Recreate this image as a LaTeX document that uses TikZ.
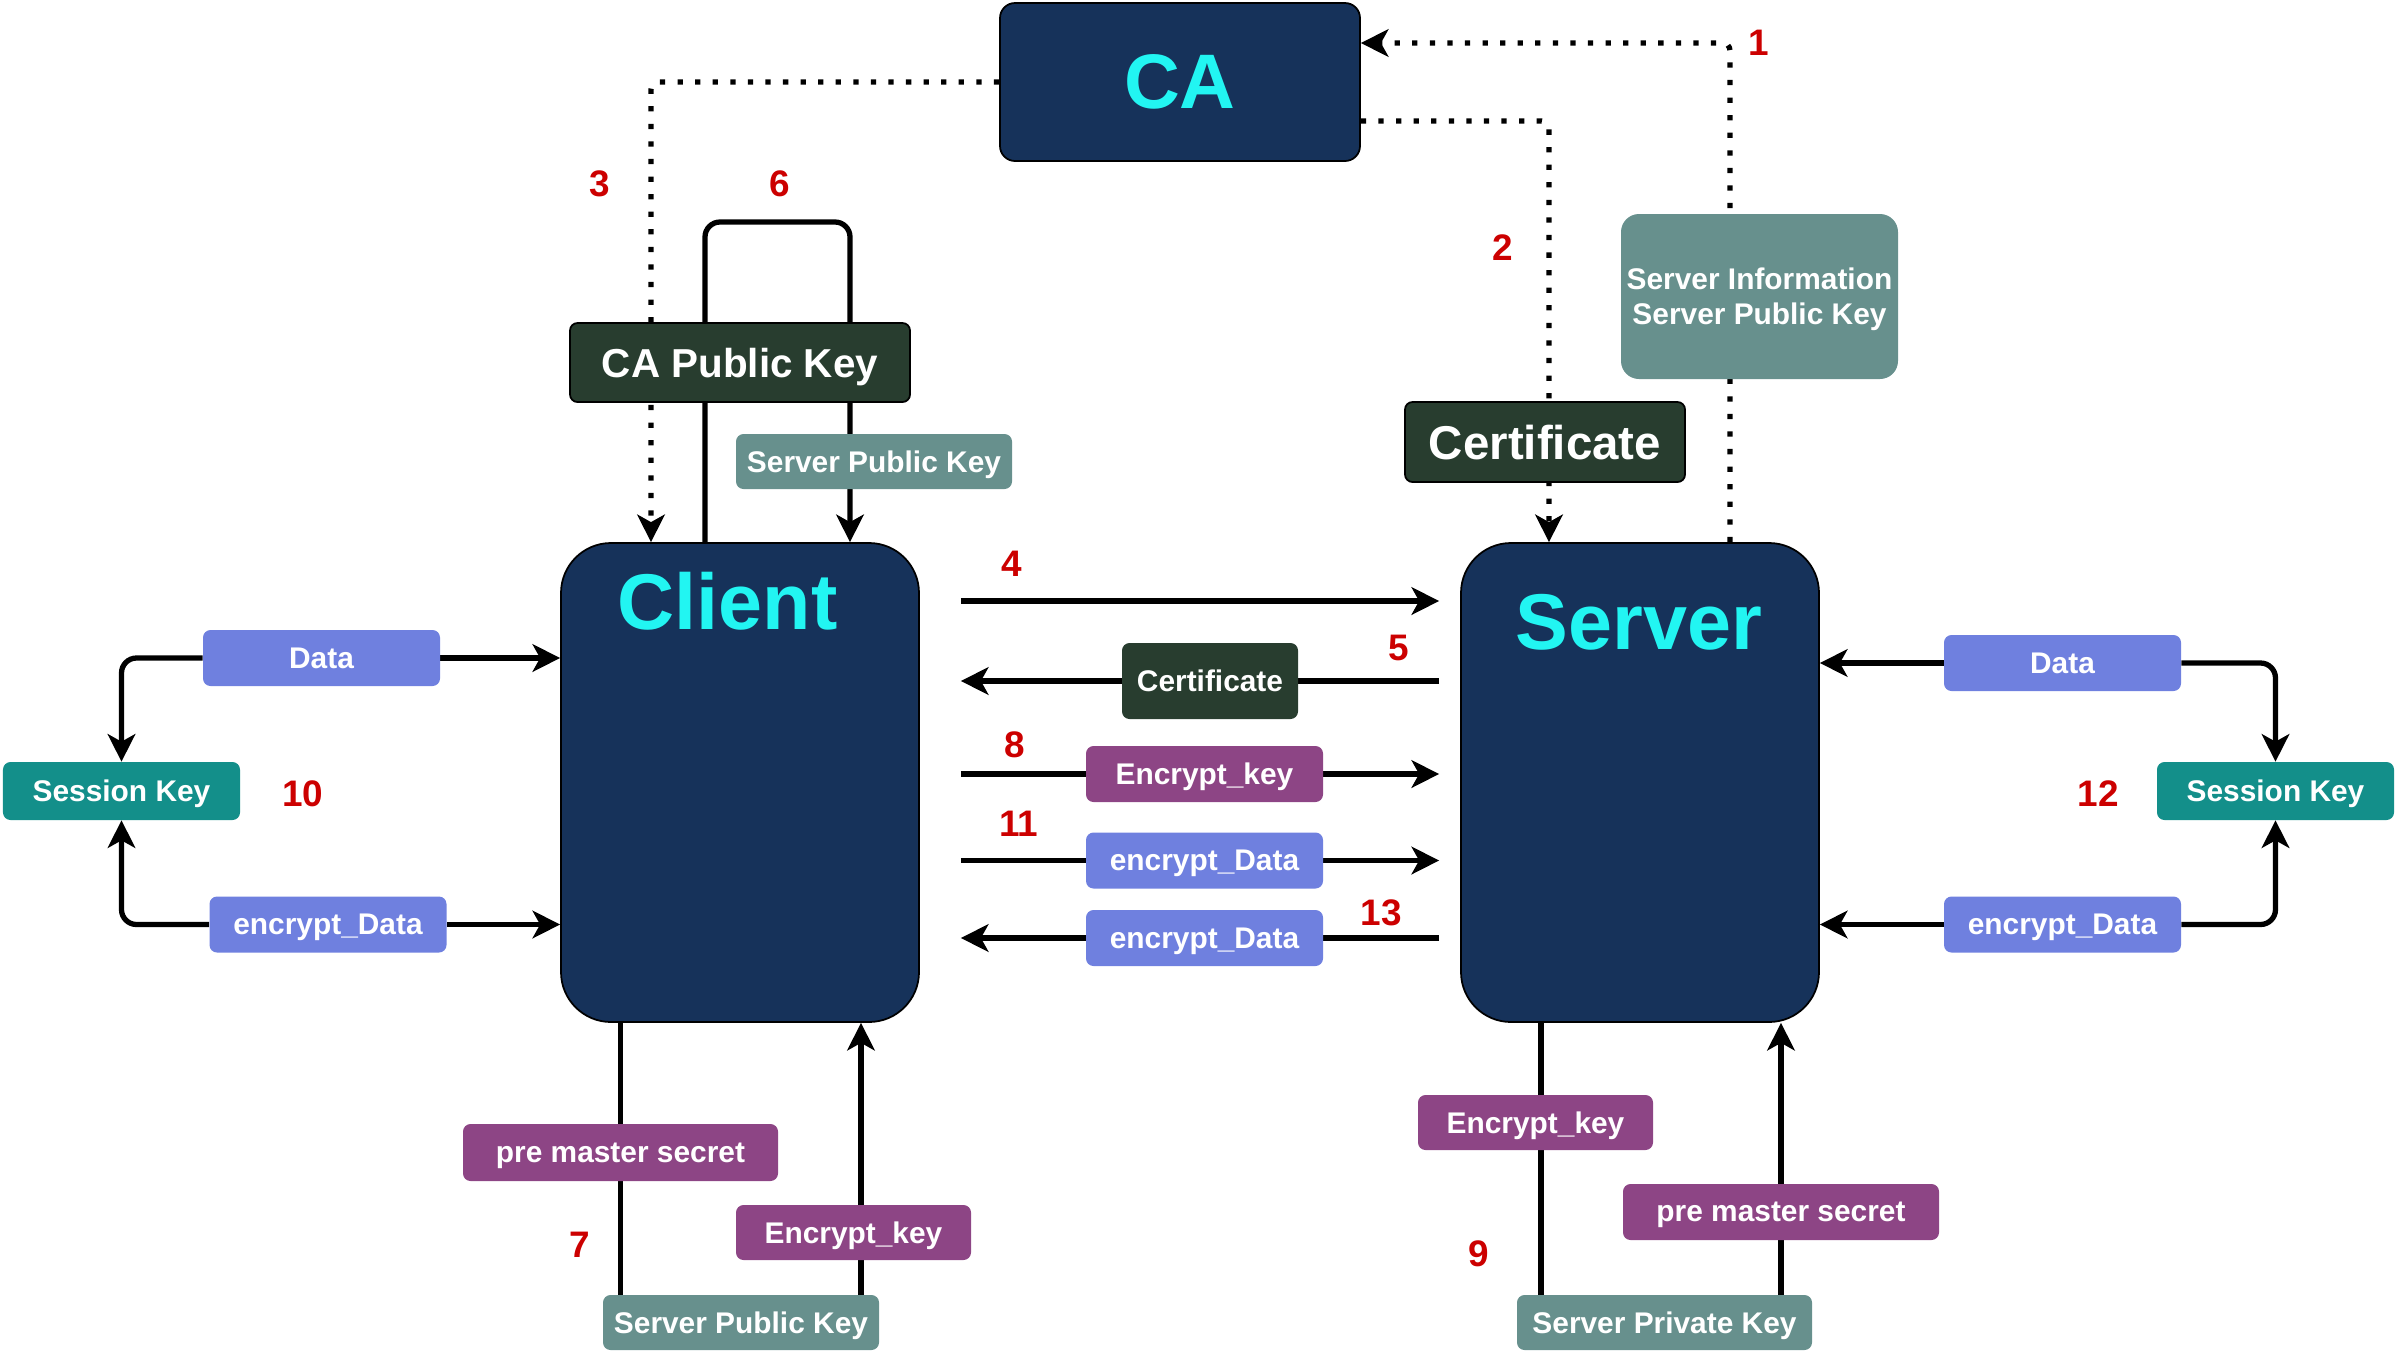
\documentclass[tikz,border=0pt]{standalone}
\usepackage{fontspec}
\setmainfont{Liberation Sans}
\usetikzlibrary{arrows.meta, positioning, calc, backgrounds}
\definecolor{boxnavy}{HTML}{16325A}
\definecolor{titlecyan}{HTML}{22F5F2}
\definecolor{keygreen}{HTML}{283D2F}
\definecolor{keygray}{HTML}{67908D}
\definecolor{keypurple}{HTML}{8D4585}
\definecolor{datablue}{HTML}{6F80DF}
\definecolor{sessteal}{HTML}{138F8A}
\definecolor{stepred}{HTML}{CC0000}

\tikzset{
  party/.style={draw=black, line width=1pt, fill=boxnavy, rounded corners=1cm, minimum width=7.16cm, minimum height=9.58cm},
  partytitle/.style={text=titlecyan, font=\fontsize{45}{45}\selectfont\bfseries},
  keybox/.style={fill=#1, text=white, rounded corners=0.15cm, inner sep=0pt, text depth=0pt, minimum width=4.74cm, minimum height=1.12cm, font=\fontsize{17}{20}\selectfont\bfseries},
  darkbox/.style={keybox=keygreen, draw=black, line width=1pt},
  link/.style={line width=3pt},
  flow/.style={line width=3pt, -{Stealth[length=0.55cm, width=0.55cm, inset=0.15cm]}},
  dotflow/.style={flow, dash pattern=on 3pt off 7pt, rounded corners=0.15cm},
  stepnum/.style={text=stepred, font=\fontsize{21}{21}\selectfont\bfseries}
}

\begin{document}
\begin{tikzpicture}
  \useasboundingbox (0,0) rectangle (47.96,-27.12);

  % Main parties
  \node[party, draw=black, rounded corners=0.3cm, minimum width=7.2cm, minimum height=3.16cm, text=titlecyan, font=\fontsize{44}{44}\selectfont\bfseries] (ca) at (23.6,-1.64) {CA};
  \node[party] (client) at (14.8,-15.65) {};
  \node[party] (server) at (32.8,-15.65) {};
  \node[partytitle] (clienttitle) at (14.55,-12.02) {Client};
  \node[partytitle] (servertitle) at (32.78,-12.45) {Server};

  % Keys above the parties
  \node[darkbox, minimum width=6.8cm, minimum height=1.58cm, font=\fontsize{23}{23}\selectfont\bfseries] (capub) at (14.8,-7.25) {CA Public Key};
  \node[keybox=keygray, minimum width=5.52cm, minimum height=1.1cm] (srvpubtop) at (17.48,-9.23) {Server Public Key};
  \node[keybox=keygray, minimum width=5.54cm, minimum height=3.3cm, rounded corners=0.36cm, align=center] (srvinfo) at (35.19,-5.93) {Server Information\\Server Public Key};
  \node[darkbox, minimum width=5.6cm, minimum height=1.6cm, font=\fontsize{27}{27}\selectfont\bfseries] (bigcert) at (30.9,-8.84) {Certificate};

  % Messages between client and server
  \node[keybox=keygreen, minimum width=3.52cm, minimum height=1.52cm] (cert5) at (24.2,-13.62) {Certificate};
  \node[keybox=keypurple] (enc8) at (24.09,-15.48) {Encrypt\_key};
  \node[keybox=datablue] (edata11) at (24.09,-17.21) {encrypt\_Data};
  \node[keybox=datablue] (edata13) at (24.09,-18.76) {encrypt\_Data};

  % Client side session
  \node[keybox=datablue] (dataL) at (6.43,-13.16) {Data};
  \node[keybox=sessteal, minimum height=1.16cm] (sessL) at (2.43,-15.82) {Session Key};
  \node[keybox=datablue] (edataL) at (6.56,-18.49) {encrypt\_Data};

  % Server side session
  \node[keybox=datablue] (dataR) at (41.25,-13.26) {Data};
  \node[keybox=sessteal, minimum height=1.16cm] (sessR) at (45.51,-15.82) {Session Key};
  \node[keybox=datablue] (edataR) at (41.25,-18.49) {encrypt\_Data};

  % Keys below the parties
  \node[keybox=keypurple, minimum width=6.3cm, minimum height=1.14cm] (pmsL) at (12.41,-23.05) {pre master secret};
  \node[keybox=keypurple, minimum width=4.7cm, minimum height=1.1cm] (encL) at (17.07,-24.65) {Encrypt\_key};
  \node[keybox=keygray, minimum width=5.52cm, minimum height=1.1cm] (srvpubbot) at (14.82,-26.45) {Server Public Key};
  \node[keybox=keypurple, minimum width=4.7cm, minimum height=1.1cm] (encR) at (30.71,-22.45) {Encrypt\_key};
  \node[keybox=keypurple, minimum width=6.32cm, minimum height=1.12cm] (pmsR) at (35.62,-24.24) {pre master secret};
  \node[keybox=keygray, minimum width=5.9cm, minimum height=1.1cm] (srvpriv) at (33.29,-26.45) {Server Private Key};

  % Step numbers
  \node[stepnum] (n1) at (35.18,-0.86) {1};
  \node[stepnum] (n2) at (30.06,-4.96) {2};
  \node[stepnum] (n3) at (12.0,-3.68) {3};
  \node[stepnum] (n4) at (20.24,-11.28) {4};
  \node[stepnum] (n5) at (27.98,-12.96) {5};
  \node[stepnum] (n6) at (15.6,-3.68) {6};
  \node[stepnum] (n7) at (11.6,-24.9) {7};
  \node[stepnum] (n8) at (20.3,-14.9) {8};
  \node[stepnum] (n9) at (29.58,-25.08) {9};
  \node[stepnum] (n10) at (6.06,-15.88) {10};
  \node[stepnum] (n11) at (20.38,-16.48) {11};
  \node[stepnum] (n12) at (41.96,-15.88) {12};
  \node[stepnum] (n13) at (27.62,-18.26) {13};

  \begin{scope}[on background layer]
    % CA exchange (dotted)
    \draw[dotflow] (server.north -| 34.6,0) |- ([yshift=0.78cm]ca.east);
    \draw[dotflow] ([yshift=-0.78cm]ca.east) -| (server.north -| 30.98,0);
    \draw[dotflow] (ca.west) -| (client.north -| 13.02,0);

    % CA public key check loop
    \draw[flow, rounded corners=0.3cm] (client.north -| 14.1,0) |- (15.5,-4.44) -| (client.north -| 17.0,0);

    % Handshake arrows
    \draw[flow, shorten <=0.82cm, shorten >=0.42cm] (client.east |- 0,-12.02) -- (server.west |- 0,-12.02);
    \draw[flow, shorten <=0.42cm, shorten >=0.82cm] (server.west |- cert5) -- (client.east |- cert5);
    \draw[flow, shorten <=0.82cm, shorten >=0.42cm] (client.east |- enc8) -- (server.west |- enc8);
    \draw[flow, shorten <=0.82cm, shorten >=0.42cm] (client.east |- edata11) -- (server.west |- edata11);
    \draw[flow, shorten <=0.42cm, shorten >=0.82cm] (server.west |- edata13) -- (client.east |- edata13);

    % Session key use
    \draw[flow] (dataL) -- (client.west |- dataL);
    \draw[flow] (edataL) -- (client.west |- edataL);
    \draw[flow, rounded corners=0.3cm] (dataL.west) -| (sessL.north);
    \draw[flow, rounded corners=0.3cm] (edataL.west) -| (sessL.south);
    \draw[flow] (dataR) -- (server.east |- dataR);
    \draw[flow] (edataR) -- (server.east |- edataR);
    \draw[flow, rounded corners=0.3cm] (dataR.east) -| (sessR.north);
    \draw[flow, rounded corners=0.3cm] (edataR.east) -| (sessR.south);

    % Pre master secret
    \draw[link] (client.south -| pmsL) -- (srvpubbot.north -| pmsL);
    \draw[flow] (srvpubbot.north -| 17.22,0) -- (client.south -| 17.22,0);
    \draw[link] (server.south -| 30.82,0) -- (srvpriv.north -| 30.82,0);
    \draw[flow] (srvpriv.north -| pmsR) -- (server.south -| pmsR);
  \end{scope}
\end{tikzpicture}
\end{document}
